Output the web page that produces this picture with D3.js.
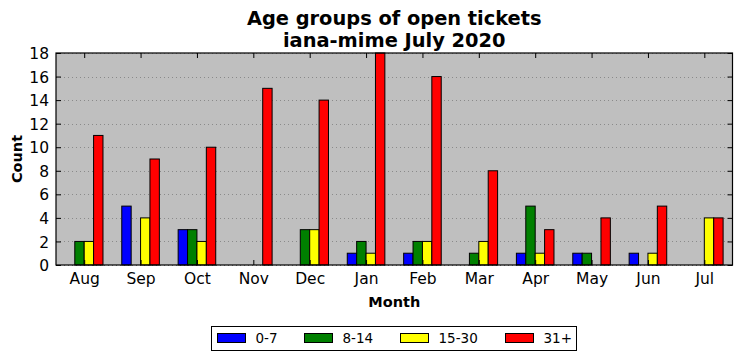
<!DOCTYPE html>
<html>
<head>
<meta charset="utf-8">
<script src="https://cdn.jsdelivr.net/npm/d3@7/dist/d3.min.js"></script>
<style>
  body { margin: 0; background: #fff; }
  svg text { font-family: "DejaVu Sans", sans-serif; fill: #000; }
</style>
</head>
<body>
<div id="chart"></div>
<script>
// data
var months = ["Aug", "Sep", "Oct", "Nov", "Dec", "Jan", "Feb", "Mar", "Apr", "May", "Jun", "Jul"];
var groups = ["0-7", "8-14", "15-30", "31+"];
var colors = ["#0000ff", "#008000", "#ffff00", "#ff0000"];
var age0to7   = [0, 5, 3, 0, 0, 1, 1, 0, 1, 1, 1, 0];
var age8to14  = [2, 0, 3, 0, 3, 2, 2, 1, 5, 1, 0, 0];
var age15to30 = [2, 4, 2, 0, 3, 1, 2, 2, 1, 0, 1, 4];
var age31plus = [11, 9, 10, 15, 14, 18, 16, 8, 3, 4, 5, 4];
var yTicks = [0, 2, 4, 6, 8, 10, 12, 14, 16, 18];

var series = [age0to7, age8to14, age15to30, age31plus];

var W = 741, H = 361;
// plot box (window.top is reserved, so prefixed names)
var pLeft = 56, pRight = 732.5, pTop = 53, pBottom = 265;
var barW = 1 / 6;

var svg = d3.select("#chart").append("svg")
  .attr("width", W)
  .attr("height", H);

var x = d3.scaleLinear().domain([-0.5, 11.5]).range([pLeft, pRight]);
var y = d3.scaleLinear().domain([0, 18]).range([pBottom, pTop]);

// plot background
svg.append("rect")
  .attr("x", pLeft).attr("y", pTop)
  .attr("width", pRight - pLeft).attr("height", pBottom - pTop)
  .attr("fill", "#bfbfbf");

// grid
svg.append("g").selectAll("line")
  .data(yTicks)
  .enter().append("line")
  .attr("x1", pLeft).attr("x2", pRight)
  .attr("y1", function(d) { return Math.round(y(d)) + 0.5; })
  .attr("y2", function(d) { return Math.round(y(d)) + 0.5; })
  .attr("stroke", "#8a8a8a")
  .attr("stroke-width", 1)
  .attr("stroke-dasharray", "1,3");

// bars
series.forEach(function(vals, k) {
  svg.append("g").selectAll("rect")
    .data(vals)
    .enter().append("rect")
    .attr("x", function(d, i) { return x(i + (k - 2) * barW); })
    .attr("y", function(d) { return y(d); })
    .attr("width", x(barW) - x(0))
    .attr("height", function(d) { return y(0) - y(d); })
    .attr("fill", colors[k])
    .attr("stroke", "#000")
    .attr("stroke-width", 1);
});

// axes, ticks inside on all four sides
var tickLen = 5;
var xb = svg.append("g").attr("transform", "translate(0," + pBottom + ")")
  .call(d3.axisBottom(x).tickValues(d3.range(12)).tickFormat(function(d) { return months[d]; }).tickSize(-tickLen).tickPadding(8));
var xt = svg.append("g").attr("transform", "translate(0," + pTop + ")")
  .call(d3.axisTop(x).tickValues(d3.range(12)).tickFormat("").tickSize(-tickLen));
var yl = svg.append("g").attr("transform", "translate(" + pLeft + ",0)")
  .call(d3.axisLeft(y).tickValues(yTicks).tickSize(-tickLen).tickPadding(7));
var yr = svg.append("g").attr("transform", "translate(" + pRight + ",0)")
  .call(d3.axisRight(y).tickValues(yTicks).tickFormat("").tickSize(-tickLen));

[xb, xt, yl, yr].forEach(function(g) {
  g.select(".domain").remove();
  g.selectAll("line").attr("stroke", "#000");
  g.selectAll("text").style("font-family", "DejaVu Sans").style("font-size", "15.5px").attr("fill", "#000");
});
yl.selectAll("text").attr("dy", "0.36em");

// frame
svg.append("rect")
  .attr("x", pLeft).attr("y", pTop)
  .attr("width", pRight - pLeft).attr("height", pBottom - pTop)
  .attr("fill", "none")
  .attr("stroke", "#000")
  .attr("stroke-width", 1.2);

// titles
svg.append("text")
  .attr("x", (pLeft + pRight) / 2).attr("y", 25)
  .attr("text-anchor", "middle")
  .style("font-size", "19.4px").style("font-weight", "bold")
  .text("Age groups of open tickets");
svg.append("text")
  .attr("x", (pLeft + pRight) / 2).attr("y", 46.5)
  .attr("text-anchor", "middle")
  .style("font-size", "19.4px").style("font-weight", "bold")
  .text("iana-mime July 2020");

svg.append("text")
  .attr("x", (pLeft + pRight) / 2).attr("y", 307)
  .attr("text-anchor", "middle")
  .style("font-size", "14.5px").style("font-weight", "bold")
  .text("Month");

svg.append("text")
  .attr("transform", "translate(22," + ((pTop + pBottom) / 2) + ") rotate(-90)")
  .attr("text-anchor", "middle")
  .style("font-size", "14.5px").style("font-weight", "bold")
  .text("Count");

// legend
var legend = svg.append("g");
legend.append("rect")
  .attr("x", 211.5).attr("y", 326.5)
  .attr("width", 365).attr("height", 24)
  .attr("fill", "#fff")
  .attr("stroke", "#000")
  .attr("stroke-width", 1);

var legendX = [217.5, 304.5, 400.5, 505.5];
groups.forEach(function(g, k) {
  legend.append("rect")
    .attr("x", legendX[k]).attr("y", 333.5)
    .attr("width", 28).attr("height", 9)
    .attr("fill", colors[k])
    .attr("stroke", "#000")
    .attr("stroke-width", 1);
  legend.append("text")
    .attr("x", legendX[k] + 38).attr("y", 343)
    .style("font-size", "13.5px")
    .text(g);
});
</script>
</body>
</html>
